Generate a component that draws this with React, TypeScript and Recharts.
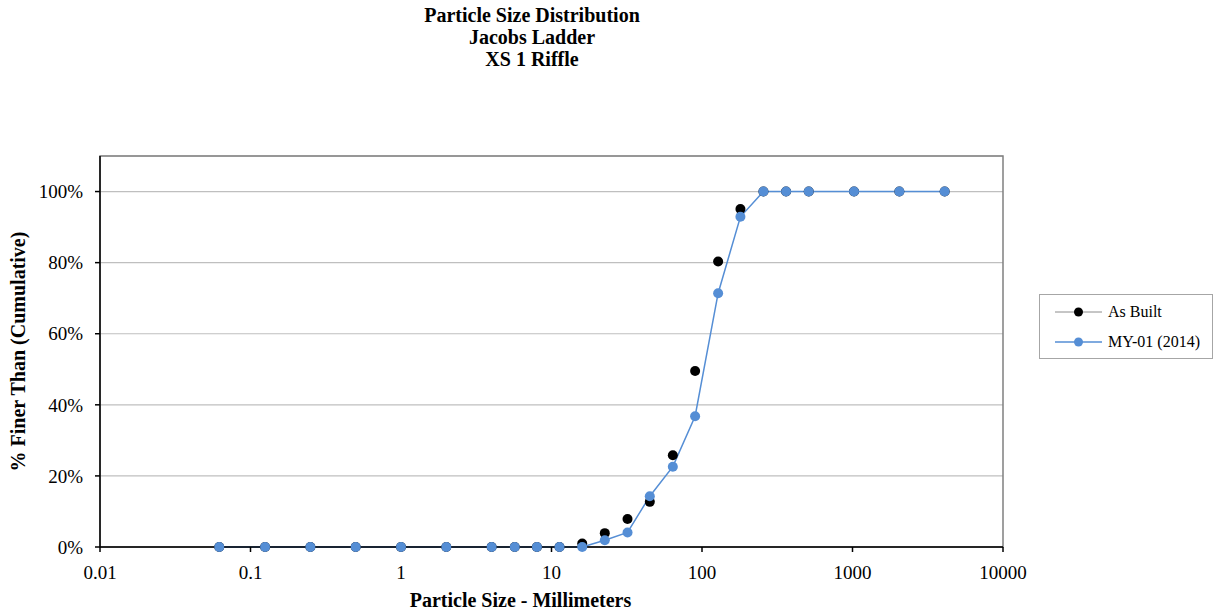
import {
  LineChart,
  Line,
  XAxis,
  YAxis,
  CartesianGrid,
  ReferenceArea,
} from 'recharts';

// sieve sizes in mm
const sizes = [
  0.062, 0.125, 0.25, 0.5, 1, 2, 4, 5.7, 8, 11.3, 16, 22.6, 32, 45, 64, 90,
  128, 180, 256, 362, 512, 1024, 2048, 4096,
];

// cumulative fraction finer than each size
const asBuilt = [
  0, 0, 0, 0, 0, 0, 0, 0, 0, 0, 0.01, 0.039, 0.079, 0.127, 0.258, 0.495,
  0.803, 0.951, 1, 1, 1, 1, 1, 1,
];
const my01 = [
  0, 0, 0, 0, 0, 0, 0, 0, 0, 0, 0, 0.019, 0.041, 0.143, 0.226, 0.368, 0.714,
  0.929, 1, 1, 1, 1, 1, 1,
];

const xTicks = [0.01, 0.1, 1, 10, 100, 1000, 10000];
const yTicks = [0, 0.2, 0.4, 0.6, 0.8, 1.0];
const titleLines = ['Particle Size Distribution', 'Jacobs Ladder', 'XS 1 Riffle'];

const data = sizes.map((size, i) => ({
  size,
  asBuilt: asBuilt[i],
  my01: my01[i],
}));

const serif = '"Liberation Serif", "Times New Roman", serif';
const BLUE = '#558ED5';

const legendRows = [
  { name: 'As Built', line: '#8C8C8C', dot: '#000000', w: 1 },
  { name: 'MY-01 (2014)', line: BLUE, dot: BLUE, w: 1.5 },
];

function LegendBox() {
  return (
    <div
      style={{
        position: 'absolute',
        left: 1039,
        top: 294,
        width: 174,
        height: 65,
        border: '1px solid #A6A6A6',
        boxSizing: 'border-box',
        fontFamily: serif,
        fontSize: 16,
        color: '#000',
        background: '#fff',
      }}
    >
      {legendRows.map((r, i) => (
        <div
          key={r.name}
          style={{
            position: 'absolute',
            left: 0,
            top: i === 0 ? 7 : 37,
            height: 20,
            display: 'flex',
            alignItems: 'center',
          }}
        >
          <svg width={64} height={12} style={{ marginLeft: 15 }}>
            <line x1={0} y1={6} x2={47} y2={6} stroke={r.line} strokeWidth={r.w} />
            <circle cx={23.5} cy={6} r={4.5} fill={r.dot} />
          </svg>
          <span style={{ marginLeft: -11, whiteSpace: 'nowrap' }}>{r.name}</span>
        </div>
      ))}
    </div>
  );
}

export default function App() {
  return (
    <div style={{ position: 'absolute', left: 0, top: 0, width: 1216, height: 610, background: '#fff' }}>
      <div
        style={{
          position: 'absolute',
          left: 332,
          top: 4,
          width: 400,
          textAlign: 'center',
          fontFamily: serif,
          fontWeight: 'bold',
          fontSize: 20,
          lineHeight: '22px',
          color: '#000',
        }}
      >
        {titleLines.map((t) => (
          <div key={t}>{t}</div>
        ))}
      </div>
      <LineChart
        width={1216}
        height={610}
        data={data}
        margin={{ top: 156, right: 213, bottom: 0, left: 0 }}
        style={{ fontFamily: serif }}
      >
        <CartesianGrid horizontal vertical={false} stroke="#BFBFBF" strokeWidth={1.2} />
        <ReferenceArea
          x1={0.01}
          x2={10000}
          y1={0}
          y2={1.1}
          fill="none"
          stroke="#808080"
          strokeWidth={1.5}
          ifOverflow="visible"
        />
        <XAxis
          dataKey="size"
          type="number"
          scale="log"
          domain={[0.01, 10000]}
          ticks={xTicks}
          allowDataOverflow
          height={63}
          stroke="#000"
          strokeWidth={1.5}
          tickSize={5}
          tickMargin={14}
          tick={{ fontSize: 19, fill: '#000', fontFamily: serif }}
          tickFormatter={(v) => String(v)}
          label={{
            value: 'Particle Size - Millimeters',
            position: 'insideBottom',
            offset: 3,
            dx: -31,
            style: { fontSize: 20, fontWeight: 'bold', fill: '#000', fontFamily: serif },
          }}
        />
        <YAxis
          type="number"
          domain={[0, 1.1]}
          ticks={yTicks}
          width={100}
          stroke="#000"
          strokeWidth={1.5}
          tickSize={5}
          tickMargin={12}
          tick={{ fontSize: 19, fill: '#000', fontFamily: serif }}
          tickFormatter={(v) => `${Math.round(v * 100)}%`}
          label={{
            value: '% Finer Than (Cumulative)',
            angle: -90,
            position: 'insideLeft',
            offset: 18,
            style: { textAnchor: 'middle', fontSize: 20, fontWeight: 'bold', fill: '#000', fontFamily: serif },
          }}
        />
        <Line
          dataKey="asBuilt"
          name="As Built"
          stroke="none"
          dot={{ r: 5, fill: '#000', stroke: 'none' }}
          isAnimationActive={false}
        />
        <Line
          dataKey="my01"
          name="MY-01 (2014)"
          stroke={BLUE}
          strokeWidth={1.5}
          dot={{ r: 5, fill: BLUE, stroke: 'none' }}
          isAnimationActive={false}
        />
      </LineChart>
      <LegendBox />
    </div>
  );
}
